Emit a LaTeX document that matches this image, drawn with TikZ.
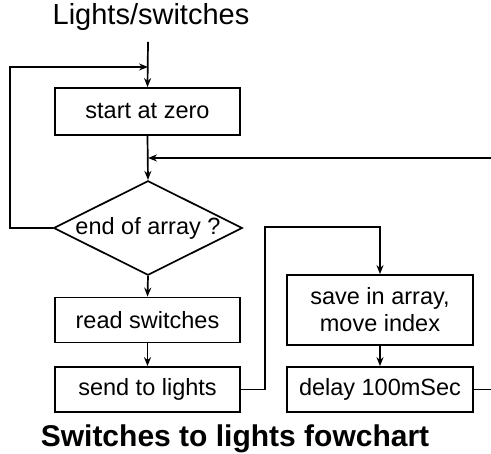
\documentclass[tikz,border=0pt]{standalone}
\usepackage{fontspec}
\setmainfont{Liberation Sans}
\usetikzlibrary{shapes.geometric,arrows.meta}

\begin{document}
\begin{tikzpicture}[
  x=1pt, y=1pt,
  %% Plain step boxes
  stepbox/.style={draw, line width=1.7pt, minimum width=185pt,
                  minimum height=45pt, inner sep=0pt, align=center,
                  font=\fontsize{23.5}{27}\selectfont},
  %% Decision diamond
  decbox/.style={draw, line width=1.7pt, diamond, aspect=2,
                 minimum width=183pt, minimum height=93pt, inner sep=0pt,
                 font=\fontsize{23.5}{27}\selectfont},
  %% Connectors
  arr/.style={->, line width=1.7pt, >={Stealth[length=9pt,width=7pt]}}
]
\useasboundingbox (0,0) rectangle (491,454);

%% -- Title and caption ---------------------------------------------------
\node[anchor=base, font=\fontsize{29}{33}\selectfont] (title) at (151,429) {Lights/switches};
\node[anchor=base, font=\fontsize{30}{34}\selectfont\bfseries] (caption) at (235,7) {Switches to lights fowchart};

%% -- Left column ---------------------------------------------------------
\node[stepbox, minimum height=47pt] (start) at (147.5,342.5) {start at zero};
\node[decbox]                       (endq)  at (148,226)    {end of array ?};
\node[stepbox]                      (read)  at (147.5,134)  {read switches};
\node[stepbox]                      (send)  at (147.5,64.5) {send to lights};

%% -- Right column --------------------------------------------------------
\node[stepbox, minimum width=186pt, minimum height=70pt] (save) at (380,144) {save in array,\\ move index};
\node[stepbox, minimum width=186pt] (delay) at (380,64.5) {delay 100mSec};

%% -- Free ends and bends -------------------------------------------------
\coordinate (entry) at (148,412);
\coordinate (join1) at (148,387);
\coordinate (join2) at (148,296);
\coordinate (farL)  at (10,387);
\coordinate (farR)  at (505,296);
\coordinate (hop)   at (265,227);

%% -- Connectors ----------------------------------------------------------
\draw[arr] (entry) -- (start.north);
\draw[arr] (endq.west) -| (farL) -- (join1);
\draw[arr] (start.south) -- (endq.north);
\draw[arr] (delay.east) -| (farR) -- (join2);
\draw[arr] (endq.south) -- (read.north);
\draw[arr] (read.south) -- (send.north);
\draw[arr] (send.east) -| (hop) -| (save.north);
\draw[arr] (save.south) -- (delay.north);

\end{tikzpicture}
\end{document}
